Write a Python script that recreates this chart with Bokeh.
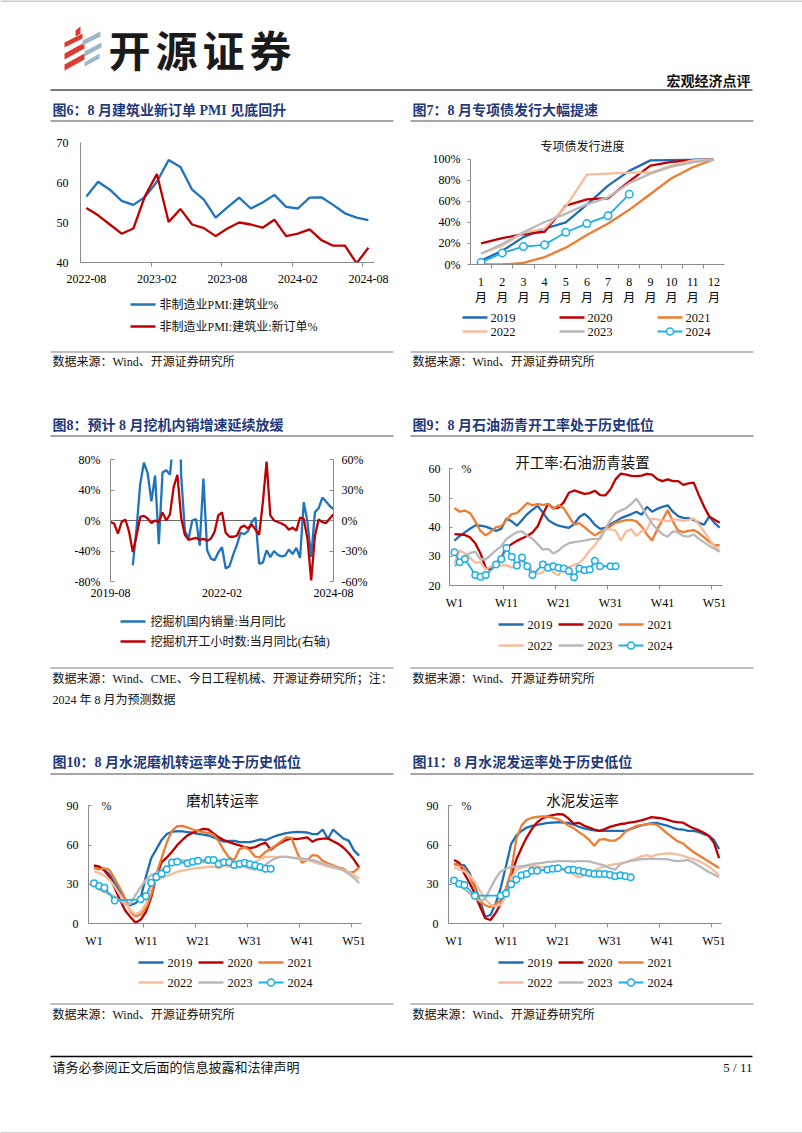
from bokeh.plotting import figure
from bokeh.layouts import column, row
from bokeh.models import Range1d, LinearAxis, FixedTicker, Span, PrintfTickFormatter
from bokeh.embed import file_html
from bokeh.resources import INLINE
from bokeh.core.properties import value
import pandas as pd

# ------------------------------------------------------------------ data
# Fig6: construction PMI (monthly)
pmi_months = [str(m) for m in pd.period_range("2022-08", "2024-08", freq="M")]
pmi_construction = [56.5, 60.2, 58.2, 55.4, 54.4, 56.4, 60.2, 65.6, 63.9, 58.2, 55.7, 51.2, 53.8,
                    56.2, 53.5, 55.0, 56.9, 53.9, 53.5, 56.2, 56.3, 54.4, 52.3, 51.2, 50.6]
pmi_new_orders = [53.6, 51.8, 49.5, 47.2, 48.5, 56.7, 62.1, 50.1, 53.4, 49.5, 48.6, 46.6, 48.5,
                  50.0, 49.5, 48.7, 50.7, 46.6, 47.2, 48.3, 45.6, 44.2, 44.2, 39.8, 43.7]
pmi_tick_idx = [0, 6, 12, 18, 24]

# Fig7: special bond issuance progress (%)
bond_months = list(range(1, 13))
bond_2019 = [3.8, 13, 26, 34, 40, 57, 75, 89, 99, 99.3, 99.6, 100]
bond_2020 = [20, 25, 29, 31, 56, 62, 63, 79, 94, 97.5, 99, 100]
bond_2021 = [0, 0, 1.5, 7, 16, 28, 39, 52, 67, 82, 92.5, 100]
bond_2022 = [10.5, 18, 30, 34, 55, 85.5, 86.4, 87.3, 87.3, 94, 99, 100]
bond_2023 = [10.2, 19.5, 30.7, 40.4, 48.2, 57.2, 63.9, 77.4, 86.4, 93, 97, 100]
bond_2024 = [2, 11, 17, 18.7, 30.7, 38.9, 46.4, 66.9]

# Fig8: excavators (monthly yoy, %)
exc_months = [str(m) for m in pd.period_range("2019-08", "2024-08", freq="M")]
NA = float("nan")
exc_sales_yoy = [NA, NA, NA, NA, NA, NA,
                 -59, -11, 48, 76, 62, 25, 59, -31, 63, 66,
                 60, 110, 300, 60, -13, -24, 0, 2, -33, 55,
                 -39, -50, -52, -42, -35, -63, -60, -45, -32, -16,
                 -18, -14, -2, 4, -57, -55, -39, -48, -40, -45,
                 -47, -46, -38, -44, -36, -49, 24, -2, -48, 11,
                 16, 30, 25, 19, 15]
exc_hours_yoy = [-1.6, -3, -13, -1.5, 1, -11, -31, -15, 3.5, 4.5,
                 2, -2.5, 0, -1.5, 8, 0, 6, 33, 45, 3,
                 -14, -19, -18, -17, -19, -18, -20, -18, -11, 5,
                 8, -12, -16, -16, -15, -7, -5, -8, -4, -9,
                 -14, 18, 58, 5, 0, -1.5, -3, -5, -9, -7,
                 -10, 3, 1.5, -18, -59, -15, 1, -1.5, -2.5, 2, 6]
exc_tick_idx = [0, 30, 60]

# Weekly charts
weeks = list(range(1, 53))
week_ticks = [1, 11, 21, 31, 41, 51]

# Fig9: asphalt plant operating rate (%)
asp_2019 = [35.4, 37, 38.2, 39.5, 40.6, 40.5, 40.2, 39.5, 38.7, 39.5, 43, 42, 40.5, 42.5, 44.5, 46, 47.3, 45,
            42.5, 41.3, 40.5, 40.1, 39.8, 41, 43.5, 44.6, 43, 40.8, 39.4, 39.8, 41, 42, 43.1, 43.8, 44.5,
            45.3, 44.3, 47, 45.3, 46.3, 47, 47.5, 45.3, 43.8, 43.2, 43.1, 42.5, 41.5, 40.9, 43.7, 41.5, 39.8]
asp_2020 = [37.6, 37.5, 37.3, 36.5, 34.5, 31, 26, 25.5, 27.5, 29.5, 33, 34.2, 35.3, 36.2, 37, 38.2, 40.3, 44.5,
            48, 46.5, 46.7, 48.5, 51.8, 52.6, 52, 51.4, 51.7, 52.5, 51, 50.9, 53, 56.5, 58.4, 58, 57.6, 57.5,
            57.7, 58.3, 58, 56.5, 55.8, 56.4, 55.8, 55.8, 54.5, 55, 55.3, 51, 47, 43.7, 42.6, 41.5]
asp_2021 = [46.6, 45.3, 45.7, 44.8, 42, 38.7, 37.2, 38.5, 40, 40.4, 42.5, 44.5, 44.8, 46.5, 48.3, 47.5, 48,
            47.6, 48, 46.3, 47.5, 46.5, 43.7, 40.9, 41.4, 40, 38.5, 37.2, 38.3, 39.3, 40.3, 41.5, 42, 42.4,
            42.5, 42, 40.2, 37.5, 35.4, 39.3, 42.5, 45.8, 42, 38.8, 38.3, 38.7, 39, 38, 36.5, 35, 33.8, 33.8]
asp_2022 = [27.5, 32, 31, 29.5, 27.8, 28, 25.5, 26.5, 27, 26.8, 27, 26.2, 27.2, 28.3, 27.2, 25, 24, 24.5, 27.5,
            24.5, 23.5, 26, 26.4, 27, 27.8, 29.5, 32, 33.8, 36.5, 39.3, 39.3, 38.8, 35.4, 38.5, 39.3, 37,
            38.7, 39.2, 43, 42.6, 42.3, 42, 42.6, 42.6, 42.2, 42.5, 43, 41, 38.5, 35.8, 33.5, 32]
asp_2023 = [26.6, 28, 30, 31.1, 31.6, 29, 29, 30.5, 32.1, 33.5, 36, 37.2, 38.3, 38.6, 37, 36, 34.2, 32.3, 32.6,
            31, 32, 33.5, 34.5, 34.9, 35.1, 35.4, 35.8, 36, 36, 39.3, 42.5, 44.8, 45.7, 46.5, 48, 49.8, 47,
            44, 41.3, 39.3, 37.6, 36.7, 38.6, 38.2, 37, 36.8, 37.5, 36, 34.8, 33.6, 32.6, 31.6]
asp_2024_weeks = [1, 2, 3, 5, 6, 7, 9, 10, 11, 12, 13, 14, 15, 16, 18, 19, 20, 21, 22, 23, 24, 25, 26, 27,
                  28, 29, 31, 32]
asp_2024 = [31.4, 28.0, 29.1, 23.6, 23.0, 23.6, 27.2, 29.1, 32.9, 29.9, 26.9, 29.6, 26.6, 23.6, 27.2, 26.1,
            26.6, 26.1, 25.8, 25.0, 22.8, 25.8, 25.2, 25.5, 28.5, 26.6, 26.6, 26.6]

# Fig10: cement mill operating rate (%)
mill_2019 = [44, 43.5, 41.2, 37.5, 31, 24, 17, 14, 15.5, 20, 36, 50, 57, 64, 68.5, 70.2, 70.7, 70.5, 70, 69.5,
             68.6, 68, 67.4, 66, 64.3, 62.7, 63.2, 63.3, 62.3, 62.3, 62.3, 63.3, 64.5, 63.8, 65.5, 67.2, 68.2,
             69.3, 69.8, 70.2, 70, 69.7, 68.4, 68.4, 72, 64.7, 72, 68.4, 65, 63.5, 56, 52]
mill_2020 = [44.5, 43.6, 40.5, 35.5, 27, 18, 10, 5, 0.5, 3, 9, 20, 36, 47, 50.5, 55, 60, 64, 67.5, 69.5, 71,
             72.5, 72, 69, 66, 64, 62.3, 61, 59.8, 58.5, 57.8, 58.5, 60.5, 62, 56.5, 59.5, 62, 64, 65, 64.7,
             65.2, 66, 62.7, 64.5, 65, 65.2, 63, 61, 58, 54, 49, 43]
mill_2021 = [42.5, 41.5, 42.2, 41, 34, 27, 19, 9, 5.5, 7, 12, 22, 38, 50, 62, 71, 74.5, 74.8, 73.5, 72, 70.9,
             70, 69.3, 68, 63, 56, 50.5, 48.6, 57, 58.5, 56, 51.1, 51.1, 54.8, 57.3, 59.8, 63, 66, 65.5, 55,
             46.5, 48.5, 52.3, 52, 48, 46.1, 44.5, 43, 42, 38.7, 39.5, 43]
mill_2022 = [40, 38.7, 36.5, 33.5, 28, 22, 16, 10, 7, 9, 15, 28, 33, 35, 36.5, 38, 39.5, 40.5, 41.3, 42, 42.5,
             42.9, 43.3, 43.6, 42.4, 44.5, 43.6, 43, 43.4, 44.2, 45, 47, 49.5, 51, 51.1, 51.1, 51.1, 51, 50.5,
             49.8, 48.8, 48.6, 47.5, 46, 44.9, 43.5, 42.6, 42, 41, 39.5, 37, 34.5]
mill_2023 = [28.5, 26, 24, 22.5, 20.5, 17.5, 14.5, 15, 22, 28, 33.5, 37, 39, 41, 43.5, 45.5, 47.4, 48.4, 48,
             47.6, 47.2, 47, 47.4, 47.7, 48.3, 48.3, 47.5, 46.1, 45, 43.5, 42, 41.2, 42.4, 45, 48, 50, 51.1,
             51, 50.5, 50, 49.8, 49.3, 48.5, 47.5, 46.1, 45, 43.8, 42.4, 40.6, 38, 35, 31]
cem_2024_weeks = [1, 2, 3, 5, 10, 11, 12, 13, 14, 15, 16, 17, 19, 20, 21, 23, 24, 25, 26, 27, 28, 29, 30,
                  31, 32, 33, 34, 35]
mill_2024 = [30.8, 28.8, 27.3, 17.6, 18.5, 20.8, 31.2, 35.7, 38.1, 41.5, 46.8, 47.3, 46.1, 47.3, 48.1, 48.6,
             48.6, 45.6, 46.9, 46.9, 44.9, 45.6, 46.6, 45.4, 44.4, 43.2, 42, 42]

# Fig11: cement shipment rate (%)
ship_2019 = [45.4, 45, 44.5, 38.5, 28.5, 17.5, 5, 6.5, 15, 27.5, 44, 61, 67.5, 70.9, 73.5, 74.8, 75.6, 76.3,
             77, 77.3, 77.6, 77.3, 77.1, 75.8, 74.1, 72.8, 72, 71.3, 70.9, 70.9, 70.9, 70.9, 70.9, 70.9, 72.5,
             73.8, 75.2, 76, 76.8, 77.1, 76, 75, 73.5, 72.3, 72, 71, 70.9, 70.2, 68.5, 67.2, 64, 57]
ship_2020 = [48.6, 46.5, 38, 31, 23, 13, 4, 2.7, 8, 15, 24, 37, 49, 58, 66, 72.5, 77.5, 80.5, 82, 83, 83.7,
             83.5, 80.5, 76.5, 77.1, 75, 73.5, 72, 70.9, 72.3, 74, 75.2, 76.2, 76.6, 77.4, 78, 79, 80.2, 81.5,
             81, 80.5, 79.5, 78.3, 77.7, 77.3, 75, 73, 71.5, 69.7, 67.2, 62, 50]
ship_2021 = [45.4, 44.4, 42.5, 36.5, 27, 17, 14, 12.6, 14.5, 18, 27, 40, 65, 75, 79.5, 81, 81.6, 82, 81.8, 81,
             80, 77.8, 75, 73, 70, 67.5, 64, 59.5, 64.3, 64.7, 63.5, 63.5, 66, 70.5, 72.6, 74.5, 75.3, 75.9,
             76.4, 75.5, 72.5, 69, 66, 63, 61.5, 58, 55, 52.5, 50, 47.5, 45, 42.5]
ship_2022 = [43, 41.5, 39.9, 37, 32, 25, 19, 14.5, 13.1, 14.5, 21, 35, 41.2, 42.9, 43.6, 44.4, 43.8, 43.2,
             42.6, 42.2, 41.9, 40.8, 39.5, 37.5, 35.5, 36.9, 38.5, 40.5, 42.5, 43.6, 44.8, 45.4, 46, 47, 48.3,
             49.8, 51.5, 52.3, 51.1, 52.8, 53.3, 53.6, 53.6, 53, 52, 50.5, 49.5, 48, 46, 43.5, 40.5, 37]
ship_2023 = [31.5, 29.5, 26.3, 23, 20, 17, 19, 27, 34.5, 39.9, 42, 43.4, 43.6, 44, 44.5, 45.4, 46, 46.5, 47.2,
             47.4, 47.7, 47.8, 47.8, 47.4, 47.8, 47.8, 47.6, 46.5, 45.4, 44.4, 42.4, 41.2, 45.4, 46.9, 48,
             48.6, 49.3, 49.3, 49.6, 49.5, 49.3, 49.3, 48.3, 47.8, 48.2, 48.6, 46.9, 44.5, 42, 39.5, 37.5, 35.5]
ship_2024 = [33, 30.5, 29.5, 21.3, 21.3, 23, 30, 33.7, 36.9, 37.9, 40.4, 40.4, 41.2, 41.9, 42.4, 41.2, 41.2,
             40.4, 39.4, 38.7, 37.9, 37.9, 37.9, 37.4, 36.2, 36.9, 36.2, 35.5]

years = ["2019", "2020", "2021", "2022", "2023", "2024"]

# ------------------------------------------------------------------ style
FONT = "Liberation Serif, Noto Sans CJK SC"
NAVY = "#1f3a7a"
TXT = "#111111"
AXC = "#8a8a8a"
BLUE = "#1f74bd"
RED = "#c00000"
YC = {"2019": "#1f6db5", "2020": "#c00000", "2021": "#ed7d31",
      "2022": "#f6bc9c", "2023": "#b8b8b8", "2024": "#1bb0e6"}
LW = 2.3
PAGE_W = 802
MID = 401


def deco(x0, x1, y0, y1):
    p = figure(width=x1 - x0, height=y1 - y0, x_range=Range1d(x0, x1), y_range=Range1d(y1, y0),
               output_backend="svg", toolbar_location=None, min_border=0,
               x_axis_location=None, y_axis_location=None, title=None)
    p.frame_align = False
    p.outline_line_color = None
    p.xgrid.visible = False
    p.ygrid.visible = False
    p.background_fill_color = "white"
    p.border_fill_color = "white"
    return p


def chart(w, h, l, r, t, b, xr, yr):
    p = figure(width=w, height=h, x_range=Range1d(*xr), y_range=Range1d(*yr),
               output_backend="svg", toolbar_location=None, title=None,
               min_border_left=l, min_border_right=r, min_border_top=t, min_border_bottom=b)
    p.frame_align = False
    p.outline_line_color = None
    p.xgrid.visible = False
    p.ygrid.visible = False
    p.background_fill_color = "white"
    p.border_fill_color = "white"
    return p


def put(p, x, y, s, size=12, color=TXT, align="left", bold=False, font=FONT):
    p.text(x=[x], y=[y], text=[s], text_font=value(font), text_font_size=value(f"{size}px"),
           text_color=color, text_align=align, text_baseline="middle",
           text_font_style="bold" if bold else "normal")


def hline(p, x0, x1, y, color="#7f7f7f", w=1.0):
    p.line([x0, x1], [y, y], line_color=color, line_width=w)


def leg(p, x0, x1, y, color, label, tx, lw=LW, marker=False, size=12.5):
    p.line([x0, x1], [y, y], line_color=color, line_width=lw)
    if marker:
        p.scatter([(x0 + x1) / 2], [y], size=7, marker="circle", fill_color="white",
                  line_color=color, line_width=1.5)
    put(p, tx, y, label, size)


def style_axis(ax, ticks, standoff, minor=None, tin=0, tout=0, show_ticks=True, line=True):
    ax.ticker = FixedTicker(ticks=ticks, minor_ticks=minor or [])
    ax.axis_line_color = AXC if line else None
    ax.major_tick_line_color = AXC if show_ticks else None
    ax.major_tick_in = tin
    ax.major_tick_out = tout
    if minor:
        ax.minor_tick_line_color = AXC
        ax.minor_tick_in = 0
        ax.minor_tick_out = 4
    else:
        ax.minor_tick_line_color = None
    ax.major_label_text_font = FONT
    ax.major_label_text_font_size = "12px"
    ax.major_label_text_color = "#000000"
    ax.major_label_standoff = standoff


def year_lines(p, xs, data, w24, v24, msize=6.5):
    for y, vals in zip(years[:5], data):
        p.line(xs, vals, line_color=YC[y], line_width=LW)
    p.line(w24, v24, line_color=YC["2024"], line_width=1.8)
    p.scatter(w24, v24, size=msize, marker="circle", fill_color="white",
              line_color=YC["2024"], line_width=1.5)


# ------------------------------------------------------------------ header
header = deco(0, PAGE_W, 0, 135)
hline(header, 0, PAGE_W, 0.5, color="#9a9a9a")
red_bars = [([64, 82, 82, 64], [42, 33, 38, 47]),
            ([64, 84, 84, 64], [53, 42, 48, 59]),
            ([64, 84, 84, 64], [64, 53, 59, 70])]
blue_bars = [([82, 100, 100, 82], [40, 31, 36, 45]),
             ([84, 101, 101, 84], [51, 42, 47, 56]),
             ([84, 99, 99, 84], [62, 53, 58, 66])]
for xs, ys in red_bars:
    header.patch(xs, ys, fill_color="#dc3a2f", line_color=None)
header.patch([75, 80, 80, 75], [30, 26, 33, 36], fill_color="#dc3a2f", line_color=None)
for xs, ys in blue_bars:
    header.patch(xs, ys, fill_color="#9db6c9", line_color=None)
for i, ch in enumerate("开源证券"):
    put(header, 108 + 47 * i, 48, ch, size=42, color="#1a1a1a", bold=True, font="Noto Sans CJK SC")
put(header, 750, 81, "宏观经济点评", size=14, align="right", bold=True)
hline(header, 50, 752, 89.5, color="#7a7a7a", w=2)
put(header, 52, 110, "图6：8 月建筑业新订单 PMI 见底回升", size=14, color=NAVY, bold=True)
put(header, 412, 110, "图7：8 月专项债发行大幅提速", size=14, color=NAVY, bold=True)
hline(header, 50, 393, 120.5, color="#4d4d4d")
hline(header, 410, 753, 120.5, color="#4d4d4d")

# ------------------------------------------------------------------ Fig6  (frame x 80-374, y 142-262)
p6 = chart(MID, 155, 80, MID - 374, 7, 28, (-0.5, 24.52), (40, 70))
x6 = list(range(len(pmi_months)))
p6.line(x6, pmi_construction, line_color=BLUE, line_width=LW)
p6.line(x6, pmi_new_orders, line_color=RED, line_width=LW)
style_axis(p6.xaxis[0], pmi_tick_idx, 8, minor=[5.5, 11.5, 17.5, 23.5], show_ticks=False)
p6.xaxis[0].major_label_overrides = {i: pmi_months[i] for i in pmi_tick_idx}
style_axis(p6.yaxis[0], [40, 50, 60, 70], 12, show_ticks=False)

d6 = deco(0, MID, 290, 440)
leg(d6, 130, 155, 304, BLUE, "非制造业PMI:建筑业%", 159, size=12)
leg(d6, 130, 155, 326, RED, "非制造业PMI:建筑业:新订单%", 159, size=12)
hline(d6, 50, 393, 351.5)
put(d6, 52, 361, "数据来源：Wind、开源证券研究所", size=12)
put(d6, 52, 425, "图8：预计 8 月挖机内销增速延续放缓", size=14, color=NAVY, bold=True)
hline(d6, 50, 393, 435.5, color="#4d4d4d")

# ------------------------------------------------------------------ Fig7  (frame x 470-724, y 138-271)
p7 = chart(MID, 173, 470 - MID, PAGE_W - 724, 3, 37, (0.5, 12.5), (0, 119.8))
year_lines(p7, bond_months, [bond_2019, bond_2020, bond_2021, bond_2022, bond_2023],
           bond_months[:len(bond_2024)], bond_2024, msize=7.5)
style_axis(p7.xaxis[0], bond_months, 6, minor=[m + 0.5 for m in bond_months[:-1]], show_ticks=False)
p7.xaxis[0].major_label_overrides = {m: f"{m}\n月" for m in bond_months}
style_axis(p7.yaxis[0], [0, 20, 40, 60, 80, 100], 7, tout=3)
p7.yaxis[0].formatter = PrintfTickFormatter(format="%d%%")
p7.yaxis[0].bounds = (0, 100)
put(p7, 0.5 + (582 - 470) / 21.17, (271 - 147) / 1.11, "专项债发行进度", size=12, align="center")

d7 = deco(MID, PAGE_W, 308, 440)
for k, y in enumerate(years):
    r, c = divmod(k, 3)
    sx = [462, 559, 657][c]
    leg(d7, sx, sx + 25, [317, 331][r], YC[y], y, sx + 28, lw=1.8 if y == "2024" else LW,
        marker=(y == "2024"))
hline(d7, 410, 753, 351.5)
put(d7, 412, 361, "数据来源：Wind、开源证券研究所", size=12)
put(d7, 412, 425, "图9：8 月石油沥青开工率处于历史低位", size=14, color=NAVY, bold=True)
hline(d7, 410, 753, 435.5, color="#4d4d4d")

# ------------------------------------------------------------------ Fig8  (frame x 110-333, y 459-581)
p8 = chart(MID, 168, 110, MID - 333, 19, 27, (0, 60), (-80, 80))
p8.extra_y_ranges = {"hours": Range1d(-60, 60)}
p8.add_layout(Span(location=0, dimension="width", line_color="#6a6a6a", line_width=1, level="underlay"))
x8 = list(range(len(exc_months)))
p8.line(x8, exc_sales_yoy, line_color=BLUE, line_width=LW)
p8.line(x8, exc_hours_yoy, line_color=RED, line_width=LW, y_range_name="hours")
rax = LinearAxis(y_range_name="hours")
p8.add_layout(rax, "right")
style_axis(p8.xaxis[0], exc_tick_idx, 7, show_ticks=False, line=False)
p8.xaxis[0].major_label_overrides = {i: exc_months[i] for i in exc_tick_idx}
style_axis(p8.yaxis[0], [-80, -40, 0, 40, 80], 10, tin=4)
p8.yaxis[0].formatter = PrintfTickFormatter(format="%d%%")
style_axis(rax, [-60, -30, 0, 30, 60], 8, tin=4)
rax.formatter = PrintfTickFormatter(format="%d%%")

d8 = deco(0, MID, 608, 775)
leg(d8, 120, 145, 621, BLUE, "挖掘机国内销量:当月同比", 150, size=12)
leg(d8, 120, 145, 641, RED, "挖掘机开工小时数:当月同比(右轴)", 150, size=12)
hline(d8, 50, 393, 667.5)
put(d8, 52, 678, "数据来源：Wind、CME、今日工程机械、开源证券研究所；注：", size=12)
put(d8, 52, 699, "2024 年 8 月为预测数据", size=12)
put(d8, 52, 762, "图10：8 月水泥磨机转运率处于历史低位", size=14, color=NAVY, bold=True)
hline(d8, 50, 393, 773.5, color="#4d4d4d")

# ------------------------------------------------------------------ Fig9  (frame x 449-722, y 452-590)
p9 = chart(MID, 172, 449 - MID, PAGE_W - 722, 12, 22, (0.04, 52.54), (20, 65.62))
year_lines(p9, weeks, [asp_2019, asp_2020, asp_2021, asp_2022, asp_2023], asp_2024_weeks, asp_2024)
style_axis(p9.xaxis[0], week_ticks, 6, minor=[10.5, 20.5, 30.5, 40.5, 50.5], show_ticks=False)
p9.xaxis[0].formatter = PrintfTickFormatter(format="W%d")
style_axis(p9.yaxis[0], [20, 30, 40, 50, 60], 9, tin=3)
p9.yaxis[0].bounds = (20, 60)
put(p9, 0.04 + (582 - 449) / 5.2, 20 + (590 - 463) / 3.025, "开工率:石油沥青装置", size=14.5, align="center")
put(p9, 0.04 + (466 - 449) / 5.2, 60, "%", size=12, align="center")

d9 = deco(MID, PAGE_W, 612, 775)
for k, y in enumerate(years):
    r, c = divmod(k, 3)
    sx = [498, 558, 618][c]
    leg(d9, sx, sx + 25, [624, 645][r], YC[y], y, sx + 29, lw=1.8 if y == "2024" else LW,
        marker=(y == "2024"))
hline(d9, 410, 753, 667.5)
put(d9, 412, 678, "数据来源：Wind、开源证券研究所", size=12)
put(d9, 412, 762, "图11：8 月水泥发运率处于历史低位", size=14, color=NAVY, bold=True)
hline(d9, 410, 753, 773.5, color="#4d4d4d")


# ------------------------------------------------------------------ Fig10 / Fig11 (frame y 788-927)
def cement_chart(x0, x1, fl, fr, series, v24, title):
    p = chart(x1 - x0, 175, fl - x0, x1 - fr, 13, 23, (-0.06, 52.46), (0, 103.4))
    year_lines(p, weeks, series, cem_2024_weeks, v24)
    style_axis(p.xaxis[0], week_ticks, 6, minor=[10.5, 20.5, 30.5, 40.5, 50.5], show_ticks=False)
    p.xaxis[0].formatter = PrintfTickFormatter(format="W%d")
    style_axis(p.yaxis[0], [0, 30, 60, 90], 10, tin=3)
    p.yaxis[0].bounds = (0, 90)
    put(p, -0.06 + 134 / 5.198, (927 - 801) / 1.3444, title, size=14.5, align="center")
    put(p, -0.06 + 18 / 5.198, 90, "%", size=12, align="center")
    return p


p10 = cement_chart(0, MID, 88, 361, [mill_2019, mill_2020, mill_2021, mill_2022, mill_2023], mill_2024,
                   "磨机转运率")
p11 = cement_chart(MID, PAGE_W, 448, 721, [ship_2019, ship_2020, ship_2021, ship_2022, ship_2023],
                   ship_2024, "水泥发运率")


def cement_deco(x0, x1, off):
    d = deco(x0, x1, 950, 1040)
    for k, y in enumerate(years):
        r, c = divmod(k, 3)
        sx = [138, 198, 258][c] + off
        leg(d, sx, sx + 25, [962, 982][r], YC[y], y, sx + 29, lw=1.8 if y == "2024" else LW,
            marker=(y == "2024"))
    hline(d, 50 + off, 393 + off, 1003.5)
    put(d, 52 + off, 1014, "数据来源：Wind、开源证券研究所", size=12)
    return d


d10 = cement_deco(0, MID, 0)
d11 = cement_deco(MID, PAGE_W, 360)

# ------------------------------------------------------------------ footer
footer = deco(0, PAGE_W, 1040, 1133)
hline(footer, 50, 752, 1056, color="#000000", w=1.5)
put(footer, 52, 1067, "请务必参阅正文后面的信息披露和法律声明", size=13)
put(footer, 752, 1067, "5 / 11", size=13, align="right")
hline(footer, 0, PAGE_W, 1132.5, color="#9a9a9a")

left = column(p6, d6, p8, d8, p10, d10, spacing=0)
right = column(p7, d7, p9, d9, p11, d11, spacing=0)
page = column(header, row(left, right, spacing=0), footer, spacing=0)

open("out.html", "w").write(file_html(page, INLINE, title="plot"))
